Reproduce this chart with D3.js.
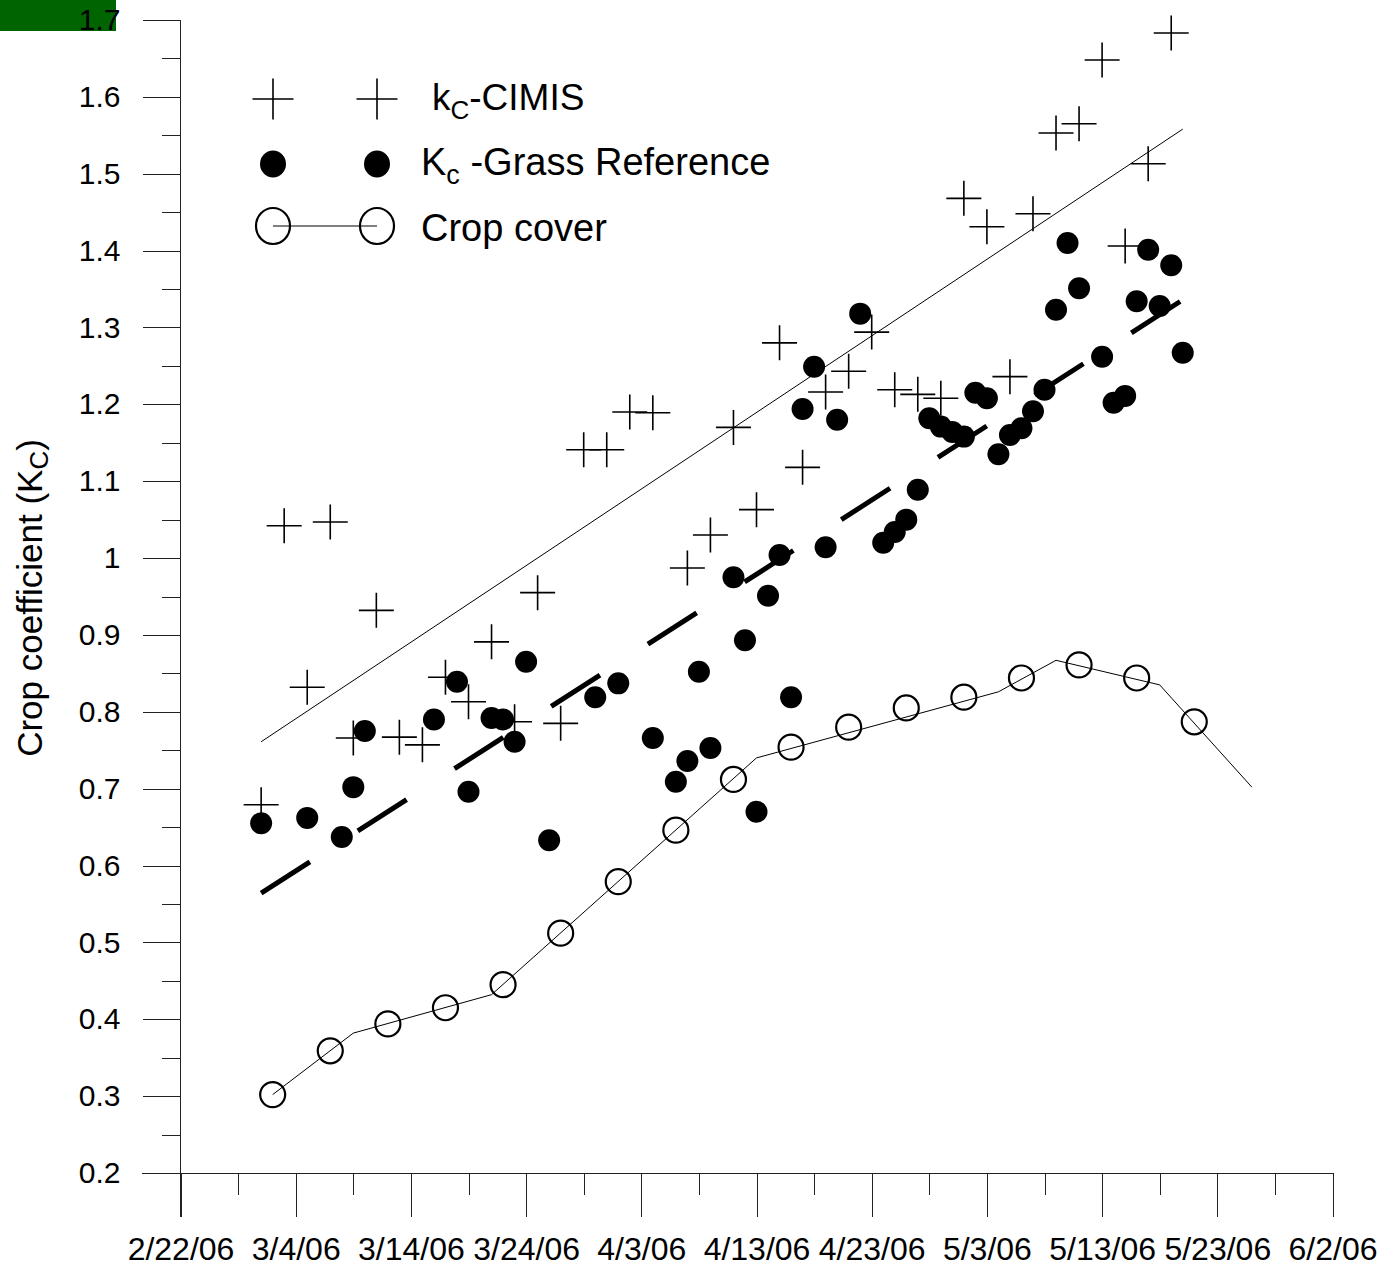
<!DOCTYPE html>
<html>
<head>
<meta charset="utf-8">
<script src="https://cdn.jsdelivr.net/npm/d3@7"></script>
<style>
  body { margin: 0; background: #fff; }
  svg { display: block; }
  text { font-family: "Liberation Sans", Arial, sans-serif; fill: #000; }
</style>
</head>
<body>
<svg id="chart" width="1383" height="1267"></svg>
<script>
// kc from CIMIS reference ET (crosses)
var cimisDates = ["3/1","3/3","3/5","3/7","3/9","3/11","3/13","3/15","3/17","3/19","3/21","3/23","3/25","3/27",
  "3/29","3/31","4/2","4/4","4/7","4/9","4/11","4/13","4/15","4/17","4/19","4/21","4/23","4/25","4/27","4/29",
  "5/1","5/3","5/5","5/7","5/9","5/11","5/13","5/15","5/17","5/19"];
var cimisKc = [0.679,1.042,0.832,1.047,0.766,0.932,0.767,0.757,0.845,0.813,0.891,0.787,0.955,0.785,
  1.141,1.141,1.190,1.189,0.987,1.030,1.170,1.063,1.280,1.118,1.216,1.243,1.294,1.219,1.213,1.208,
  1.468,1.431,1.236,1.448,1.553,1.565,1.648,1.406,1.513,1.683];

// Kc from grass reference ET (filled dots)
var grassDates = ["3/1","3/5","3/8","3/9","3/10","3/16","3/18","3/19","3/21","3/22","3/23","3/24","3/26","3/30",
  "4/1","4/4","4/6","4/7","4/8","4/9","4/11","4/12","4/13","4/14","4/15","4/16","4/17","4/18","4/19","4/20",
  "4/22","4/24","4/25","4/26","4/27","4/28","4/29","4/30","5/1","5/2","5/3","5/4","5/5","5/6","5/7","5/8",
  "5/9","5/10","5/11","5/13","5/14","5/15","5/16","5/17","5/18","5/19","5/20"];
var grassKc = [0.655,0.662,0.637,0.702,0.775,0.790,0.839,0.696,0.792,0.790,0.761,0.865,0.633,0.819,
  0.837,0.766,0.709,0.736,0.852,0.753,0.975,0.893,0.670,0.951,1.004,0.819,1.194,1.249,1.014,1.180,
  1.318,1.020,1.034,1.050,1.089,1.182,1.171,1.164,1.158,1.215,1.208,1.135,1.160,1.169,1.191,1.219,
  1.323,1.410,1.351,1.262,1.202,1.211,1.334,1.401,1.328,1.381,1.267];

// crop cover (open circles) and the thin line drawn with them
var coverDates = ["3/2","3/7","3/12","3/17","3/22","3/27","4/1","4/6","4/11","4/16","4/21","4/26","5/1","5/6","5/11","5/16","5/21"];
var coverVals = [0.302,0.359,0.394,0.415,0.445,0.512,0.579,0.646,0.712,0.754,0.780,0.805,0.819,0.844,0.861,0.844,0.787];
var coverLineDates = ["3/2","3/9","3/21","4/13","5/4","5/9","5/18","5/26"];
var coverLineVals = [0.302,0.382,0.432,0.740,0.826,0.867,0.835,0.702];

// linear fits
var fitDates = ["3/1","5/20"];
var cimisFit = [0.761,1.558];
var grassFit = [0.564,1.336];

var xTicks = ["2/22","3/4","3/14","3/24","4/3","4/13","4/23","5/3","5/13","5/23","6/2"];
var yTicks = [0.2,0.3,0.4,0.5,0.6,0.7,0.8,0.9,1.0,1.1,1.2,1.3,1.4,1.5,1.6,1.7];

var parse = function(s) { return d3.utcParse("%m/%d/%Y")(s + "/2006"); };

var svg = d3.select("#chart");

var x = d3.scaleUtc().domain([parse("2/22"), parse("6/2")]).range([180.5, 1332.5]);
var y = d3.scaleLinear().domain([0.2, 1.7]).range([1173, 20]);

// the green block in the top left corner
svg.append("rect").attr("x", 0).attr("y", 0).attr("width", 116).attr("height", 31).attr("fill", "#006400");

// y axis
var yMinor = d3.range(0.25, 1.7, 0.1);
svg.append("g").attr("transform", "translate(180.5,0)")
   .call(d3.axisLeft(y).tickValues(yMinor).tickSize(19).tickFormat(""))
   .call(function(g) { g.select(".domain").remove(); });
var gy = svg.append("g").attr("transform", "translate(180.5,0)")
   .call(d3.axisLeft(y).tickValues(yTicks).tickSize(38).tickPadding(22)
     .tickFormat(function(d) { return String(+d.toFixed(1)); }));
gy.select(".domain").attr("d", "M0,20V1217");
gy.selectAll("text").attr("font-size", 30).attr("font-family", null);

// x axis
var xMinor = xTicks.slice(0, -1).map(function(d) { return d3.utcDay.offset(parse(d), 5); });
svg.append("g").attr("transform", "translate(0,1173)")
   .call(d3.axisBottom(x).tickValues(xMinor).tickSize(22).tickFormat(""))
   .call(function(g) { g.select(".domain").remove(); });
var gx = svg.append("g").attr("transform", "translate(0,1173)")
   .call(d3.axisBottom(x).tickValues(xTicks.map(parse)).tickSize(44).tickPadding(20)
     .tickFormat(d3.utcFormat("%-m/%-d/%y")));
gx.select(".domain").attr("d", "M142,0.5H1332.5");
gx.selectAll("text").attr("font-size", 32).attr("font-family", null);

svg.selectAll(".tick line, .domain").attr("stroke", "#222").attr("shape-rendering", "crispEdges");

// y axis title
var yt = svg.append("text").attr("transform", "translate(42,598) rotate(-90)")
   .attr("text-anchor", "middle").attr("font-size", 35);
yt.append("tspan").text("Crop coefficient (K");
yt.append("tspan").attr("font-size", 26).attr("dy", 6).text("C");
yt.append("tspan").attr("dy", -6).text(")");

var line = d3.line().x(function(d) { return x(parse(d[0])); }).y(function(d) { return y(d[1]); });

// fit lines
svg.append("path").attr("d", line(d3.zip(fitDates, cimisFit)))
   .attr("fill", "none").attr("stroke", "#000").attr("stroke-width", 1);
svg.append("path").attr("d", line(d3.zip(fitDates, grassFit)))
   .attr("fill", "none").attr("stroke", "#000").attr("stroke-width", 5).attr("stroke-dasharray", "58,57");

// crop cover
svg.append("path").attr("d", line(d3.zip(coverLineDates, coverLineVals)))
   .attr("fill", "none").attr("stroke", "#000").attr("stroke-width", 1);
svg.append("g").selectAll("circle").data(d3.zip(coverDates, coverVals)).join("circle")
   .attr("cx", function(d) { return x(parse(d[0])); })
   .attr("cy", function(d) { return y(d[1]); })
   .attr("r", 12.5).attr("fill", "none").attr("stroke", "#000").attr("stroke-width", 2.2);

// grass reference dots
svg.append("g").selectAll("circle").data(d3.zip(grassDates, grassKc)).join("circle")
   .attr("cx", function(d) { return x(parse(d[0])); })
   .attr("cy", function(d) { return y(d[1]); })
   .attr("r", 11).attr("fill", "#000");

// CIMIS crosses
var plus = function(cx, cy, h) { return "M" + (cx - h) + "," + cy + "H" + (cx + h) + "M" + cx + "," + (cy - h) + "V" + (cy + h); };
svg.append("g").selectAll("path").data(d3.zip(cimisDates, cimisKc)).join("path")
   .attr("d", function(d) { return plus(x(parse(d[0])), y(d[1]), 17.5); })
   .attr("stroke", "#000").attr("stroke-width", 1.6).attr("fill", "none");

// legend
var lg = svg.append("g");
[273, 377].forEach(function(lx) {
  lg.append("path").attr("d", plus(lx, 99, 20.5)).attr("stroke", "#000").attr("stroke-width", 1.6);
  lg.append("ellipse").attr("cx", lx).attr("cy", 164).attr("rx", 13).attr("ry", 13.5).attr("fill", "#000");
});
lg.append("line").attr("x1", 273).attr("x2", 377).attr("y1", 226).attr("y2", 226).attr("stroke", "#000");
[273, 377].forEach(function(lx) {
  lg.append("ellipse").attr("cx", lx).attr("cy", 226).attr("rx", 17).attr("ry", 18)
    .attr("fill", "none").attr("stroke", "#000").attr("stroke-width", 2.2);
});

var t1 = lg.append("text").attr("x", 432).attr("y", 110).attr("font-size", 37);
t1.append("tspan").text("k");
t1.append("tspan").attr("font-size", 26).attr("dy", 9).text("C");
t1.append("tspan").attr("dy", -9).text("-CIMIS");

var t2 = lg.append("text").attr("x", 421).attr("y", 175).attr("font-size", 38);
t2.append("tspan").text("K");
t2.append("tspan").attr("font-size", 27).attr("dy", 9).text("c");
t2.append("tspan").attr("dy", -9).text(" -Grass Reference");

lg.append("text").attr("x", 421).attr("y", 241).attr("font-size", 38).text("Crop cover");
</script>
</body>
</html>
